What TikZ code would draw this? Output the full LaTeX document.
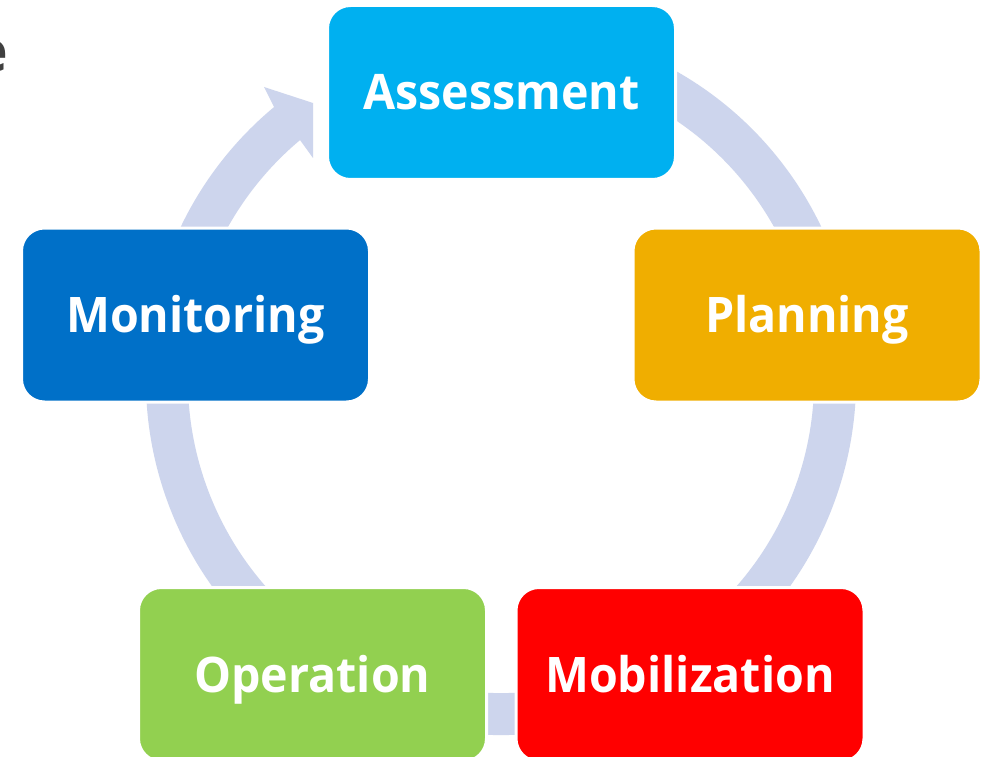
\documentclass[tikz,border=0pt]{standalone}
\usepackage{fontspec}
\setmainfont{Open Sans}[FakeStretch=0.95]
\usetikzlibrary{calc}
\definecolor{ringc}{RGB}{205,213,237}
\definecolor{cA}{RGB}{0,176,240}
\definecolor{cP}{RGB}{240,174,0}
\definecolor{cMob}{RGB}{255,0,0}
\definecolor{cOp}{RGB}{146,208,80}
\definecolor{cMon}{RGB}{0,112,200}
\definecolor{eg}{RGB}{64,64,64}
\begin{document}
\begin{tikzpicture}[x=1pt,y=-1pt,
  box/.style={rounded corners=23pt, draw=white, line width=3pt,
    minimum width=348pt, minimum height=174pt, inner sep=0pt,
    text=white, font=\fontsize{49}{58}\selectfont\bfseries,
    text height=35pt, text depth=0pt},
  ring/.style={draw=ringc, line width=42pt}]
\clip (0,0) rectangle (986,757);
\fill[white] (0,0) rectangle (986,757);
\coordinate (c) at (501,380);
% ring
\draw[ring] (c) ++(-70:334) arc[start angle=-70, end angle=230.8, radius=334];
% arrowhead
\fill[ringc] (274,107) -- (264,87) -- (313,103) -- (313,158) -- (300,140) -- cycle;
% partial text at left
\node[anchor=base east, text=eg, font=\fontsize{56}{60}\selectfont\bfseries, inner sep=0pt] (e) at (8,72) {e};
% boxes
\node[box, fill=cA] (ass) at (501.5,92.5) {Assessment};
\node[box, fill=cP] (pla) at (807,315) {Planning};
\node[box, fill=cMon] (mon) at (195.5,315) {Monitoring};
\node[box, fill=cOp] (ope) at (312.5,674.5) {Operation};
\node[box, fill=cMob] (mob) at (690,674.5) {Mobilization};
\end{tikzpicture}
\end{document}
